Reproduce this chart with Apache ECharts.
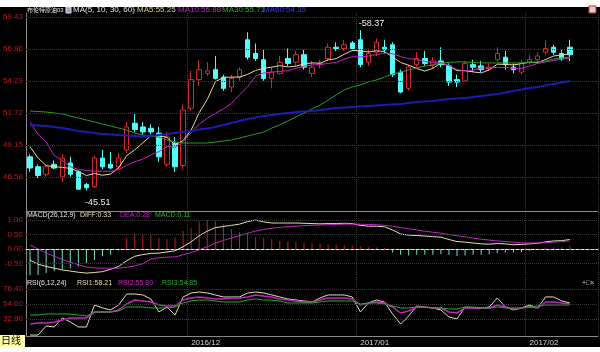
<!DOCTYPE html>
<html>
<head>
<meta charset="utf-8">
<title>布伦特原油03</title>
<style>
html,body{margin:0;padding:0;background:#fff}
#main{width:600px;height:352px}
</style>
</head>
<body>
<div id="main"></div>
<script src="https://cdn.jsdelivr.net/npm/echarts@6/dist/echarts.min.js"></script>
<script>
// trading days, 2016/11/03 .. 2017/02/08
var dates = [
  '2016/11/03','2016/11/04','2016/11/07','2016/11/08','2016/11/09','2016/11/10','2016/11/11','2016/11/14','2016/11/15','2016/11/16',
  '2016/11/17','2016/11/18','2016/11/21','2016/11/22','2016/11/23','2016/11/24','2016/11/25','2016/11/28','2016/11/29','2016/11/30',
  '2016/12/01','2016/12/02','2016/12/05','2016/12/06','2016/12/07','2016/12/08','2016/12/09','2016/12/12','2016/12/13','2016/12/14',
  '2016/12/15','2016/12/16','2016/12/19','2016/12/20','2016/12/21','2016/12/22','2016/12/23','2016/12/27','2016/12/28','2016/12/29',
  '2016/12/30','2017/01/03','2017/01/04','2017/01/05','2017/01/06','2017/01/09','2017/01/10','2017/01/11','2017/01/12','2017/01/13',
  '2017/01/16','2017/01/17','2017/01/18','2017/01/19','2017/01/20','2017/01/23','2017/01/24','2017/01/25','2017/01/26','2017/01/27',
  '2017/01/30','2017/01/31','2017/02/01','2017/02/02','2017/02/03','2017/02/06','2017/02/07','2017/02/08'
];
// [open, close, low, high]
var ohlc = [
  [48.2,47.3,47.0,48.4],[47.4,46.7,46.5,47.6],[46.8,47.4,46.6,47.6],[47.6,47.3,47.2,47.9],[46.6,48.1,46.2,48.4],
  [47.7,46.8,46.6,48.2],[47.0,45.6,45.55,47.1],[45.98,45.72,45.51,46.1],[45.8,48.1,45.7,48.3],[48.1,47.4,47.2,48.75],
  [47.6,47.3,47.2,48.6],[47.4,48.1,47.2,48.5],[48.75,50.6,48.5,51.0],[50.9,50.4,50.2,51.7],[50.6,50.2,50.0,51.0],
  [50.5,50.2,50.0,50.8],[50.1,48.2,47.8,50.6],[47.6,49.8,47.4,50.2],[49.3,47.4,46.98,49.8],[47.5,51.96,47.2,52.4],
  [52.1,54.4,51.9,55.1],[54.4,55.2,53.9,56.0],[54.9,55.1,54.7,55.8],[55.2,54.5,54.4,56.3],[54.6,53.7,53.5,54.8],
  [53.8,54.5,53.4,54.8],[54.6,55.2,54.3,55.4],[57.6,56.2,56.0,58.2],[56.5,56.1,55.9,57.3],[56.0,54.5,54.3,56.8],
  [54.5,55.0,53.7,55.4],[54.9,55.8,54.8,56.3],[56.1,55.7,55.5,56.9],[55.8,56.4,55.5,56.7],[56.4,55.4,55.2,56.8],
  [54.9,55.4,54.6,55.9],[55.6,55.7,55.3,56.0],[56.1,57.0,55.9,57.3],[57.0,56.9,56.7,57.4],[56.9,57.2,56.7,57.6],
  [57.35,56.9,56.7,57.5],[57.6,55.6,55.4,58.37],[55.8,56.5,55.5,56.9],[56.6,57.4,56.3,57.7],[57.0,56.8,56.5,57.6],
  [57.2,54.8,54.6,57.4],[55.0,53.4,53.3,55.2],[53.7,55.4,53.5,55.6],[55.6,56.1,55.4,56.6],[56.1,55.7,55.5,56.7],
  [55.6,55.9,55.3,56.2],[55.9,55.6,55.4,57.0],[55.5,54.2,53.9,55.7],[54.4,54.2,53.8,54.8],[54.3,55.7,54.2,55.9],
  [55.6,55.4,55.0,56.0],[55.5,55.2,55.0,55.9],[55.3,55.4,55.1,55.7],[56.0,56.5,55.8,57.0],[56.2,55.6,55.2,56.7],
  [55.4,55.2,54.9,55.7],[55.0,55.7,54.8,56.0],[55.8,56.0,55.6,56.4],[56.0,56.3,55.7,56.6],[56.6,56.9,56.4,57.6],
  [57.0,56.6,56.4,57.2],[56.5,56.1,55.9,56.8],[57.0,56.4,55.9,57.6]
];
var ma5 = [49.0,48.1,47.5,47.4,47.36,47.26,47.04,46.70,46.86,46.72,46.82,47.32,48.30,48.76,49.32,49.90,49.92,49.76,49.16,49.51,
  50.35,51.75,52.81,54.23,54.58,54.60,54.60,54.82,55.14,55.30,55.40,55.52,55.42,55.48,55.66,55.74,55.72,55.98,56.08,56.44,
  56.74,56.72,56.62,56.72,56.64,56.22,55.78,55.56,55.30,55.08,55.30,55.74,55.50,55.12,55.12,55.02,54.94,55.18,55.64,55.62,
  55.58,55.68,55.80,55.76,56.02,56.30,56.38,56.46];
var ma10 = [51.0,50.0,49.4,48.3,47.9,47.4,47.2,47.1,47.05,47.04,47.04,47.18,47.50,47.81,48.02,48.36,48.62,49.03,48.96,49.42,
  50.13,50.84,51.29,51.70,52.05,52.48,53.18,53.82,54.69,54.94,55.00,55.06,55.12,55.31,55.48,55.57,55.62,55.70,55.78,56.05,
  56.24,56.22,56.30,56.40,56.54,56.48,56.25,56.09,56.01,55.86,55.76,55.76,55.53,55.21,55.10,55.16,55.34,55.34,55.38,55.37,
  55.30,55.31,55.49,55.70,55.82,55.94,56.03,56.13];
var ma30 = [51.88,51.84,51.80,51.72,51.64,51.48,51.32,51.16,51.00,50.84,50.68,50.51,50.35,50.11,49.95,49.87,49.79,49.55,49.39,49.31,
  49.31,49.31,49.31,49.39,49.47,49.55,49.71,49.87,50.03,50.19,50.51,50.76,51.08,51.40,51.72,52.04,52.36,52.76,53.17,53.57,
  53.81,53.97,54.21,54.37,54.61,54.85,55.01,55.17,55.33,55.49,55.57,55.74,55.78,55.82,55.82,55.78,55.74,55.74,55.74,55.74,
  55.74,55.74,55.78,55.82,55.90,56.06,56.14,56.22];
var ma60 = [50.76,50.72,50.68,50.59,50.51,50.39,50.27,50.19,50.11,50.03,49.99,49.95,49.91,49.87,49.83,49.87,49.95,50.03,50.11,50.19,
  50.27,50.39,50.47,50.59,50.76,50.92,51.08,51.24,51.36,51.48,51.56,51.64,51.72,51.80,51.84,51.88,51.96,52.04,52.12,52.16,
  52.20,52.24,52.28,52.32,52.36,52.40,52.44,52.52,52.60,52.64,52.68,52.76,52.84,52.88,52.92,53.00,53.08,53.17,53.25,53.37,
  53.49,53.61,53.73,53.81,53.93,54.05,54.17,54.29];
var diff = [-0.38,-0.52,-0.60,-0.66,-0.72,-0.76,-0.80,-0.83,-0.81,-0.78,-0.70,-0.60,-0.40,-0.25,-0.19,-0.15,-0.14,-0.10,-0.06,0.08,
  0.25,0.46,0.62,0.74,0.78,0.82,0.86,0.95,1.00,0.94,0.90,0.90,0.90,0.90,0.89,0.88,0.87,0.88,0.88,0.89,
  0.88,0.82,0.79,0.79,0.77,0.66,0.52,0.48,0.47,0.45,0.43,0.41,0.33,0.26,0.24,0.21,0.18,0.17,0.19,0.18,
  0.15,0.16,0.18,0.20,0.25,0.28,0.29,0.33];
var dea = [0.14,0.00,-0.14,-0.25,-0.36,-0.45,-0.54,-0.62,-0.65,-0.66,-0.66,-0.66,-0.63,-0.58,-0.50,-0.35,-0.30,-0.28,-0.27,-0.20,
  -0.12,-0.03,0.08,0.20,0.30,0.38,0.46,0.55,0.62,0.68,0.72,0.75,0.77,0.79,0.81,0.82,0.83,0.84,0.85,0.86,
  0.86,0.86,0.85,0.84,0.82,0.79,0.74,0.70,0.66,0.62,0.58,0.55,0.50,0.46,0.42,0.38,0.34,0.31,0.28,0.26,
  0.24,0.22,0.21,0.21,0.22,0.24,0.26,0.28];
var macd = [-0.90,-0.90,-0.83,-0.77,-0.70,-0.66,-0.60,-0.48,-0.37,-0.25,-0.20,-0.05,0.38,0.55,0.48,0.48,0.38,0.34,0.41,0.62,
  0.72,0.95,1.00,0.98,0.86,0.69,0.59,0.55,0.41,0.38,0.34,0.28,0.24,0.24,0.22,0.20,0.18,0.16,0.15,0.14,
  0.12,0.08,0.06,0.05,0.04,-0.12,-0.20,-0.22,-0.20,-0.20,-0.20,-0.18,-0.20,-0.24,-0.22,-0.20,-0.20,-0.18,-0.14,-0.12,
  -0.12,-0.10,-0.06,-0.02,0.04,0.06,0.06,0.11];
var rsi1 = [9.5,9.5,22.6,21.2,34.3,28.4,21.2,21.2,53.1,48.8,45.9,53.1,69.1,69.1,67.7,61.9,43.0,50.2,38.6,64.8,
  70.6,72.0,70.6,67.7,64.8,64.8,64.8,70.6,72.0,70.6,67.7,64.8,61.9,60.4,59.0,57.5,63.3,67.7,67.7,67.7,
  64.8,43.0,56.1,60.4,57.5,40.1,25.5,37.2,51.7,50.2,48.8,45.9,35.7,32.8,50.2,48.8,48.8,50.2,63.3,50.2,
  45.9,48.8,53.1,48.8,64.8,64.8,59.0,56.1];
var rsi2 = [25.5,27.0,27.0,28.4,31.3,34.3,34.3,34.3,43.0,43.0,43.0,45.9,54.6,60.4,59.0,57.5,53.1,51.7,51.7,60.4,
  63.3,64.8,63.3,61.9,61.9,63.3,63.3,64.8,67.7,66.2,64.8,61.9,60.4,59.0,57.5,57.5,60.4,63.3,63.3,63.3,
  61.9,53.1,56.1,57.5,56.1,50.2,41.5,44.4,50.2,50.2,48.8,48.8,43.0,41.5,48.8,48.8,48.8,48.8,53.1,50.2,
  47.3,48.8,50.2,48.8,57.5,57.5,56.1,54.6];
var rsi3 = [38.6,38.6,40.1,40.1,40.1,40.1,38.6,37.2,43.0,43.0,43.0,44.4,50.2,50.2,50.2,48.8,48.8,48.8,50.2,56.1,
  59.0,60.4,60.4,59.0,57.5,57.5,57.5,60.4,61.9,60.4,60.4,59.0,56.1,56.1,56.1,56.1,57.5,59.0,59.0,59.0,
  59.0,54.6,56.1,56.1,54.6,51.7,48.8,48.8,50.2,50.2,48.8,48.8,47.3,47.3,50.2,50.2,48.8,48.8,50.2,48.8,
  48.8,48.8,50.2,51.7,53.1,53.1,53.1,53.1];
// axis label values
var priceTicks = [46.58, 49.15, 51.72, 54.29, 56.86, 59.43];
var macdTicks = [-0.5, 0, 0.5, 1.0];
var rsiTicks = [32.8, 54.6, 76.4];

var RED = '#d22a2a', CYAN = '#54fcfc', LBL = '#b41e1e';
var FONT = '"Liberation Sans", "Noto Sans CJK SC", sans-serif';

function monthStart(i) {
  return i > 0 && !!dates[i] && dates[i].slice(0, 7) !== dates[i - 1].slice(0, 7);
}
function gridLines(vals, color, type) {
  return {
    silent: true, symbol: ['none', 'none'], animation: false,
    label: {show: false},
    lineStyle: {color: color, type: type, width: 1},
    data: vals.map(function (v) { return {yAxis: v}; })
  };
}
function xAx(gi, showLabel) {
  return {
    type: 'category', gridIndex: gi, data: dates, max: 70,
    axisLine: {lineStyle: {color: '#8a8a8a'}},
    axisTick: {show: false},
    axisLabel: {
      show: showLabel, interval: function (i) { return monthStart(i); },
      formatter: function (v) { return v.slice(0, 7); },
      color: '#d8d8d8', fontSize: 8, fontFamily: FONT, align: 'left', margin: 3
    },
    splitLine: {show: true, interval: function (i) { return monthStart(i); },
      lineStyle: {color: '#3a3a3a', type: 'dotted'}}
  };
}
function yAx(gi, min, max, ticks) {
  return {
    type: 'value', gridIndex: gi, min: min, max: max, scale: true,
    axisLine: {show: true, lineStyle: {color: '#8a8a8a'}},
    axisTick: {show: false},
    splitLine: {show: false},
    axisLabel: {customValues: ticks, color: LBL, fontSize: 8, fontFamily: FONT, margin: 3,
      formatter: function (v) { return v.toFixed(2); }}
  };
}
function line(name, data, color, gi, width) {
  return {name: name, type: 'line', data: data, xAxisIndex: gi, yAxisIndex: gi,
    showSymbol: false, symbol: 'none', silent: true,
    lineStyle: {color: color, width: width || 1}};
}
function txt(x, y, s, color, size) {
  return {type: 'text', x: x, y: y, silent: true, z: 100,
    style: {text: s, fill: color, font: (size || 8) + 'px ' + FONT, verticalAlign: 'middle'}};
}

var option = {
  animation: false,
  backgroundColor: '#000',
  grid: [
    {left: 26, top: 13, width: 572, height: 198},
    {left: 26, top: 212, width: 572, height: 64},
    {left: 26, top: 277, width: 572, height: 59}
  ],
  xAxis: [xAx(0, false), xAx(1, false), xAx(2, true)],
  yAxis: [yAx(0, 43.85, 59.75, priceTicks), yAx(1, -0.93, 1.28, macdTicks), yAx(2, 8.1, 93.8, rsiTicks)],
  series: [
    {
      name: 'K', type: 'candlestick', data: ohlc, barWidth: 5,
      itemStyle: {color: '#000', color0: CYAN, borderColor: RED, borderColor0: CYAN, borderWidth: 1},
      markLine: gridLines(priceTicks, '#3c3c3c', 'dotted'),
      markPoint: {
        symbol: 'circle', symbolSize: 1, silent: true,
        itemStyle: {color: 'rgba(0,0,0,0)'},
        label: {show: true, position: 'right', distance: 0, color: '#f0f0f0', fontSize: 9, fontFamily: FONT,
          formatter: function (p) { return '-' + Number(p.value).toFixed(2); }},
        data: [
          {type: 'max', valueDim: 'highest', label: {offset: [-2, -7]}},
          {type: 'min', valueDim: 'lowest', label: {offset: [-2, 12]}}
        ]
      }
    },
    line('MA5', ma5, '#e6d9a2', 0),
    line('MA10', ma10, '#c424c4', 0),
    line('MA30', ma30, '#23a023', 0),
    line('MA60', ma60, '#1c1cb0', 0, 2),
    {
      name: 'MACD', type: 'bar', data: macd, xAxisIndex: 1, yAxisIndex: 1, barWidth: 1, silent: true,
      itemStyle: {color: function (p) { return p.value >= 0 ? '#c81e1e' : '#6fe3c6'; }},
      markLine: {
        silent: true, symbol: ['none', 'none'], label: {show: false},
        data: [
          {yAxis: 0, lineStyle: {color: '#e8e8e8', type: [3, 2], width: 1}},
          {yAxis: macdTicks[0], lineStyle: {color: '#3c3c3c', type: 'dotted', width: 1}},
          {yAxis: macdTicks[2], lineStyle: {color: '#3c3c3c', type: 'dotted', width: 1}},
          {yAxis: macdTicks[3], lineStyle: {color: '#3c3c3c', type: 'dotted', width: 1}}
        ]
      }
    },
    line('DIFF', diff, '#e6e0b4', 1),
    line('DEA', dea, '#c424c4', 1),
    (function () {
      var s = line('RSI1', rsi1, '#e6dcb4', 2);
      s.markLine = gridLines(rsiTicks, '#3c3c3c', 'dotted');
      return s;
    })(),
    line('RSI2', rsi2, '#c424c4', 2, 1.5),
    line('RSI3', rsi3, '#23b023', 2)
  ],
  graphic: [
    {type: 'rect', shape: {x: 0, y: 0, width: 600, height: 7}, style: {fill: '#fff'}, silent: true, z: 90},
    {type: 'rect', shape: {x: 0, y: 347, width: 600, height: 5}, style: {fill: '#fff'}, silent: true, z: 90},
    {type: 'rect', shape: {x: 0, y: 335, width: 25, height: 12}, style: {fill: '#ffffa8'}, silent: true, z: 95},
    txt(1, 341, '日线', '#000', 10),
    txt(27, 10, '布伦特原油03', '#e6e6e6', 6),
    {type: 'rect', shape: {x: 66, y: 7, width: 5, height: 6}, style: {fill: '#9aa6c8', stroke: '#e0e0e0', lineWidth: 1}, silent: true, z: 100},
    txt(73, 10, 'MA(5, 10, 30, 60)', '#e6e6e6', 8),
    txt(137, 10, 'MA5:55.25', '#d8cc8c', 8),
    txt(178, 10, 'MA10:55.88', '#c424c4', 8),
    txt(222, 10, 'MA30:55.71', '#2cb02c', 8),
    txt(263, 10, 'MA60:54.35', '#3838ff', 8),
    {type: 'rect', shape: {x: 589, y: 6, width: 7, height: 7}, style: {fill: '#e8c8c8', stroke: '#c03030'}, silent: true, z: 100},
    txt(27, 215, 'MACD(26,12,9)', '#e6e6e6', 7),
    txt(80, 215, 'DIFF:0.33', '#e6e0b4', 7),
    txt(120, 215, 'DEA:0.28', '#c424c4', 7),
    txt(155, 215, 'MACD:0.11', '#2cb02c', 7),
    txt(27, 283, 'RSI(6,12,24)', '#e6e6e6', 7),
    txt(77, 283, 'RSI1:58.21', '#e6dcb4', 7),
    txt(118, 283, 'RSI2:55.80', '#c424c4', 7),
    txt(162, 283, 'RSI3:54.85', '#2cb02c', 7),
    txt(582, 283, '+□×', '#c8c8c8', 7)
  ]
};
echarts.init(document.getElementById('main')).setOption(option);
</script>
</body>
</html>
